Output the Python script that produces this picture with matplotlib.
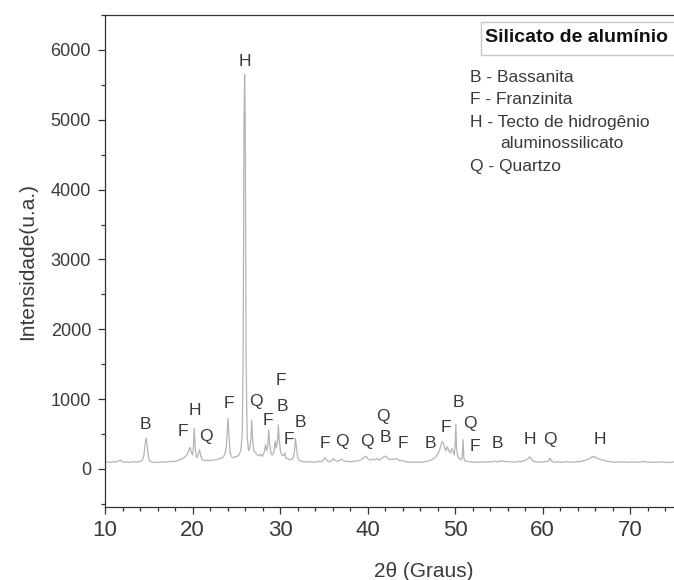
import matplotlib
matplotlib.use("Agg")
import matplotlib.pyplot as plt
from matplotlib.ticker import MultipleLocator
from matplotlib.patches import Rectangle

plt.rcParams['font.family'] = ['Liberation Sans', 'DejaVu Sans']

# XRD pattern: 2-theta (degrees) and intensity (a.u.)
two_theta = [
    10.0, 10.25, 10.5, 10.75, 11.0, 11.25, 11.5, 11.75, 12.0, 12.25, 12.5, 12.75,
    13.0, 13.25, 13.5, 13.75, 14.0, 14.25, 14.45, 14.6, 14.7, 14.8, 14.95, 15.1,
    15.35, 15.6, 15.85, 16.1, 16.35, 16.6, 16.85, 17.1, 17.35, 17.6, 17.85, 18.1,
    18.35, 18.6, 18.85, 19.1, 19.35, 19.55, 19.7, 19.85, 20.0, 20.1, 20.2, 20.3,
    20.45, 20.6, 20.8, 20.95, 21.15, 21.4, 21.65, 21.9, 22.15, 22.4, 22.65, 22.9,
    23.15, 23.4, 23.65, 23.85, 23.95, 24.05, 24.15, 24.3, 24.5, 24.7, 24.9, 25.1,
    25.3, 25.5, 25.68, 25.78, 25.88, 25.95, 26.02, 26.12, 26.25, 26.4, 26.55, 26.68,
    26.76, 26.86, 27.0, 27.2, 27.4, 27.6, 27.8, 28.0, 28.2, 28.35, 28.45, 28.6,
    28.7, 28.8, 28.95, 29.1, 29.3, 29.45, 29.55, 29.7, 29.8, 29.9, 30.05, 30.2,
    30.4, 30.55, 30.65, 30.8, 30.95, 31.1, 31.3, 31.5, 31.65, 31.75, 31.85, 32.0,
    32.2, 32.45, 32.7, 32.95, 33.2, 33.45, 33.7, 33.95, 34.2, 34.45, 34.7, 34.95,
    35.15, 35.35, 35.6, 35.85, 36.1, 36.3, 36.55, 36.8, 37.05, 37.3, 37.55, 37.8,
    38.05, 38.3, 38.55, 38.8, 39.05, 39.3, 39.55, 39.8, 40.05, 40.3, 40.55, 40.8,
    41.05, 41.3, 41.55, 41.8, 42.05, 42.3, 42.55, 42.8, 43.05, 43.3, 43.55, 43.8,
    44.05, 44.3, 44.55, 44.8, 45.05, 45.3, 45.55, 45.8, 46.05, 46.3, 46.55, 46.8,
    47.05, 47.3, 47.55, 47.8, 48.05, 48.3, 48.5, 48.65, 48.8, 48.95, 49.1, 49.25,
    49.45, 49.6, 49.75, 49.9, 50.0, 50.08, 50.16, 50.3, 50.45, 50.6, 50.8, 50.9,
    51.0, 51.15, 51.35, 51.55, 51.8, 52.05, 52.3, 52.55, 52.8, 53.05, 53.3, 53.55,
    53.8, 54.05, 54.3, 54.55, 54.8, 55.05, 55.3, 55.55, 55.8, 56.05, 56.3, 56.55,
    56.8, 57.05, 57.3, 57.55, 57.8, 58.05, 58.3, 58.5, 58.7, 58.95, 59.2, 59.45,
    59.7, 59.95, 60.2, 60.45, 60.7, 60.85, 61.0, 61.25, 61.5, 61.75, 62.0, 62.25,
    62.5, 62.75, 63.0, 63.25, 63.5, 63.75, 64.0, 64.25, 64.5, 64.75, 65.0, 65.25,
    65.5, 65.7, 65.85, 66.0, 66.2, 66.45, 66.7, 66.95, 67.2, 67.45, 67.7, 67.95,
    68.2, 68.45, 68.7, 68.95, 69.2, 69.45, 69.7, 69.95, 70.2, 70.45, 70.7, 70.95,
    71.2, 71.45, 71.7, 71.95, 72.2, 72.45, 72.7, 72.95, 73.2, 73.45, 73.7, 73.95,
    74.2, 74.45, 74.7, 75.0,
]
intensity = [
    95, 100, 92, 98, 105, 96, 110, 125, 102, 95, 100, 92,
    98, 104, 96, 100, 108, 120, 200, 380, 440, 360, 180, 115,
    100, 94, 98, 92, 100, 96, 104, 98, 102, 110, 105, 112,
    120, 135, 150, 170, 200, 260, 310, 240, 200, 330, 585, 300,
    160, 190, 275, 180, 130, 120, 125, 118, 122, 130, 128, 140,
    150, 160, 200, 300, 520, 725, 500, 220, 170, 160, 175, 180,
    200, 260, 500, 1600, 5000, 5650, 5000, 1500, 450, 260, 300, 450,
    700, 420, 260, 230, 200, 190, 210, 180, 250, 350, 260, 330,
    560, 380, 230, 200, 240, 400, 300, 380, 630, 420, 250, 200,
    190, 230, 160, 150, 140, 130, 135, 160, 250, 440, 330, 170,
    120, 110, 105, 100, 104, 98, 102, 96, 100, 110, 104, 130,
    160, 120, 105, 115, 150, 120, 108, 125, 140, 115, 105, 112,
    100, 108, 115, 110, 122, 135, 160, 185, 140, 125, 140, 130,
    150, 125, 140, 170, 185, 150, 130, 145, 135, 150, 125, 120,
    115, 105, 100, 96, 102, 94, 98, 95, 100, 96, 104, 110,
    120, 130, 145, 170, 220, 300, 390, 370, 300, 260, 320, 270,
    230, 290, 260, 200, 350, 640, 300, 170, 160, 130, 150, 420,
    150, 110, 115, 100, 105, 96, 100, 94, 98, 102, 96, 100,
    106, 98, 104, 112, 100, 108, 120, 105, 110, 100, 106, 96,
    102, 98, 110, 104, 115, 125, 145, 175, 140, 110, 100, 96,
    104, 98, 102, 108, 120, 155, 115, 100, 96, 102, 94, 100,
    98, 106, 96, 102, 94, 100, 108, 104, 112, 120, 130, 140,
    160, 180, 165, 175, 150, 145, 130, 125, 115, 108, 104, 100,
    96, 102, 98, 104, 96, 100, 94, 98, 102, 96, 100, 94,
    98, 110, 104, 96, 100, 94, 98, 92, 100, 96, 102, 94,
    98, 92, 96, 100,
]

# Phase identification labels: letter, 2-theta position, height of label
peak_letters = ["B", "F", "H", "Q", "F", "H", "Q", "F", "F", "B", "F", "B",
                "F", "Q", "Q", "Q", "B", "F", "B", "F", "B", "Q", "F", "B",
                "H", "Q", "H"]
peak_pos = [14.57, 18.91, 20.29, 21.54, 24.17, 26.0, 27.26, 28.63, 30.11, 30.23,
            31.03, 32.29, 35.14, 37.09, 39.94, 41.77, 42.0, 44.06, 47.14, 48.97,
            50.34, 51.71, 52.29, 54.8, 58.57, 60.86, 66.57]
label_height = [630, 530, 830, 460, 930, 5830, 960, 690, 1260, 890,
                415, 670, 370, 400, 400, 745, 445, 370, 370, 600,
                945, 645, 315, 370, 415, 415, 415]

phase_legend = ["B - Bassanita", "F - Franzinita", "H - Tecto de hidrogênio",
                "aluminossilicato", "Q - Quartzo"]

W, H = 674, 580
fig = plt.figure(figsize=(W / 100, H / 100), dpi=100)
ax = fig.add_axes([105 / W, 1 - 507 / H, 1 - 105 / W, (507 - 15) / H])

ax.plot(two_theta, intensity, color="#b4b4b4", lw=0.9)

ax.set_xlim(10, 75)
ax.set_ylim(-545, 6500)

text_col = "#3a3a3a"
for s, x, y in zip(peak_letters, peak_pos, label_height):
    ax.text(x, y, s, ha="center", va="center", fontsize=12.5, color=text_col)

ax.xaxis.set_major_locator(MultipleLocator(10))
ax.xaxis.set_minor_locator(MultipleLocator(2))
ax.yaxis.set_major_locator(MultipleLocator(1000))
ax.yaxis.set_minor_locator(MultipleLocator(500))
ax.tick_params(axis="both", which="major", direction="out", length=5,
               width=0.9, color="#333333")
ax.tick_params(axis="both", which="minor", direction="out", length=3,
               width=0.9, color="#333333")
ax.tick_params(axis="x", labelsize=16, labelcolor=text_col, pad=4)
ax.tick_params(axis="y", labelsize=13, labelcolor=text_col, pad=5)

for side in ("left", "bottom", "top"):
    ax.spines[side].set_color("#333333")
    ax.spines[side].set_linewidth(0.9)
ax.spines["right"].set_visible(False)

ax.set_xlabel("2θ (Graus)", fontsize=15, color=text_col)
ax.xaxis.set_label_coords((424 - 105) / (W - 105), -0.112)
ax.set_ylabel("Intensidade(u.a.)", fontsize=15, color=text_col, labelpad=10)

# Title box and phase key at the top right
fig.add_artist(Rectangle((481 / W, 1 - 55 / H), 0.5, 33 / H,
                         transform=fig.transFigure, fill=False,
                         edgecolor="#c8c8c8", lw=1))
fig.text(485 / W, 1 - 38 / H, "Silicato de alumínio", fontsize=14,
         fontweight="bold", color="#111111", ha="left", va="center")
legend_rows = [(470, 77), (470, 99), (470, 122), (500, 143), (470, 166)]
for s, (px, py) in zip(phase_legend, legend_rows):
    fig.text(px / W, 1 - py / H, s, fontsize=12.5, color=text_col,
             ha="left", va="center")

fig.savefig("out.png", dpi=100)
